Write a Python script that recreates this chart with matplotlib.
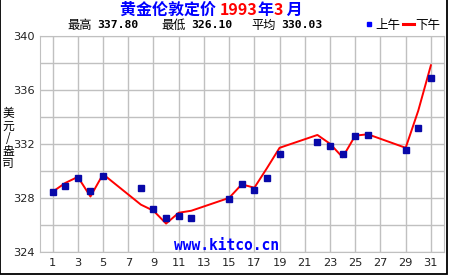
import matplotlib
matplotlib.use("Agg")
import matplotlib.pyplot as plt
from matplotlib.lines import Line2D
from matplotlib.patches import Rectangle

plt.rcParams['font.family'] = ['DejaVu Sans', 'Noto Sans CJK SC']
CJK = ['Noto Sans CJK SC', 'DejaVu Sans']

# morning fixing (squares)
am_days = [1, 2, 3, 4, 5, 8, 9, 10, 11, 12, 15, 16, 17, 18, 19, 22, 23, 24, 25, 26, 29, 30, 31]
am_vals = [328.40, 328.85, 329.50, 328.50, 329.60, 328.70, 327.15, 326.50, 326.65, 326.50,
           327.90, 329.00, 328.60, 329.50, 331.25, 332.15, 331.85, 331.25, 332.60, 332.65,
           331.55, 333.20, 336.85]

# afternoon fixing (line)
pm_days = [1, 2, 3, 4, 5, 8, 9, 10, 11, 12, 15, 16, 17, 18, 19, 22, 23, 24, 25, 26, 29, 30, 31]
pm_vals = [328.45, 329.10, 329.55, 328.10, 329.75, 327.50, 327.05, 326.10, 326.90, 327.05,
           328.00, 329.00, 328.75, 330.20, 331.70, 332.65, 332.00, 331.00, 332.60, 332.70,
           331.70, 334.45, 337.80]

x_ticks = list(range(1, 32, 2))
y_ticks = [324, 328, 332, 336, 340]

grid_col = '#c0c0c0'

fig = plt.figure(figsize=(4.5, 2.75), dpi=100)
fig.patch.set_facecolor('white')
ax = fig.add_axes([40 / 450, 23 / 275, 403.5 / 450, 216.5 / 275])

ax.plot(pm_days, pm_vals, color='#ff0000', lw=1.4, zorder=3)
ax.plot(am_days, am_vals, 's', color='#0808a8', markersize=4.6, zorder=4, lw=0)

ax.set_xlim(0, 32)
ax.set_ylim(324, 340)
ax.set_xticks(x_ticks)
ax.set_yticks(y_ticks)
ax.set_yticks(range(324, 341, 2), minor=True)
ax.grid(True, which='both', color=grid_col, lw=1.0)
ax.set_axisbelow(True)
ax.tick_params(which='both', length=0, labelsize=8.2, colors='#222222', pad=4)
for s in ax.spines.values():
    s.set_color(grid_col)

# y label, characters stacked
fig.text(8 / 450, 1 - 139 / 275, '美\n元\n/\n盎\n司', family=CJK, fontsize=8.5,
         ha='center', va='center', linespacing=0.95)

# title
ty = 1 - 10 / 275
parts = [('黄金伦敦定价 ', '#0000ff'), ('1993', '#ff0000'), ('年', '#0000ff'),
         ('3', '#ff0000'), (' 月', '#0000ff')]
x0 = 120 / 450
renderer = fig.canvas.get_renderer()
for txt, col in parts:
    t = fig.text(x0, ty, txt, family=CJK, fontsize=11.5, fontweight='bold', color=col,
                 ha='left', va='center')
    bb = t.get_window_extent(renderer=renderer)
    x0 += bb.width / fig.bbox.width

# subtitle
sy = 1 - 25 / 275
for xp, txt in [(67, '最高'), (161, '最低'), (251, '平均')]:
    fig.text(xp / 450, sy, txt, family=CJK, fontsize=8.8, ha='left', va='center')
for xp, txt in [(97, '337.80'), (191, '326.10'), (281, '330.03')]:
    fig.text(xp / 450, sy, txt, family='DejaVu Sans Mono', fontweight='bold', fontsize=8.2,
             ha='left', va='center')

handles = [Line2D([], [], marker='s', color='#0000ff', lw=0, markersize=3.5),
           Line2D([], [], color='#ff0000', lw=2.2)]
leg = fig.legend(handles, ['上午', '下午'], loc='center right',
                 bbox_to_anchor=(440 / 450, sy), ncol=2, frameon=False,
                 prop={'family': CJK, 'size': 9}, handlelength=0.9,
                 handletextpad=0.1, columnspacing=0.15, borderpad=0, borderaxespad=0)

# watermark
fig.text(226 / 450, 1 - 246 / 275, 'www.kitco.cn', family='DejaVu Sans Mono',
         fontweight='bold', fontsize=10.5, color='#0000ff', ha='center', va='center', zorder=5)

# outer frame
fig.patches.append(Rectangle((0.001, 0.003), 0.992, 1.2, transform=fig.transFigure,
                             fill=False, edgecolor='black', lw=1.3))

fig.savefig('out.png', dpi=100)
